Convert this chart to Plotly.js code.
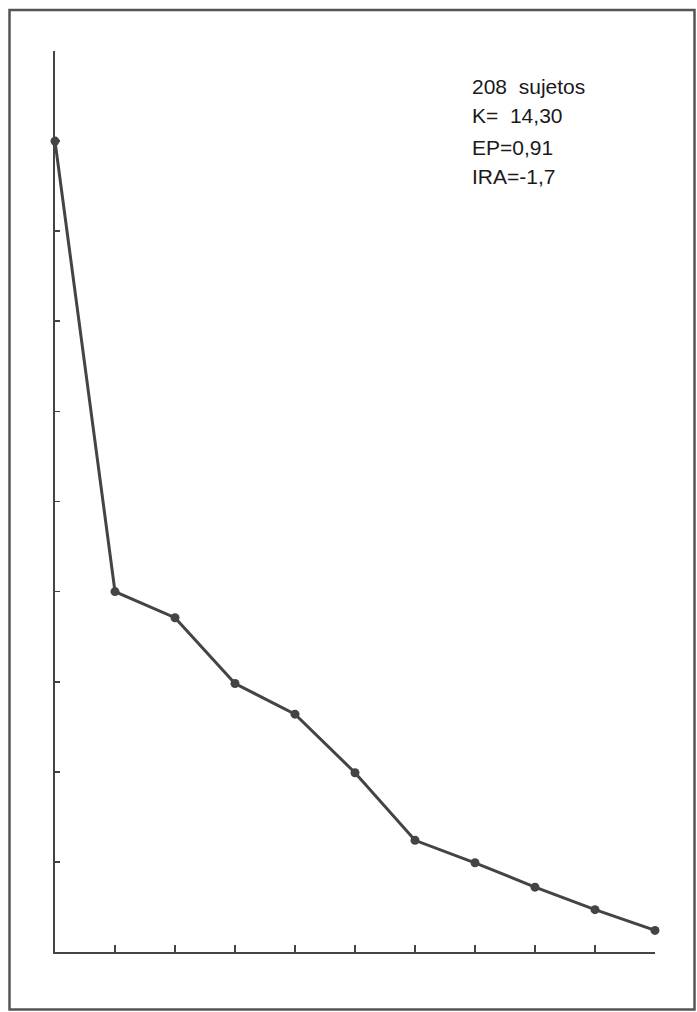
<!DOCTYPE html>
<html>
<head>
<meta charset="utf-8">
<script src="https://cdn.plot.ly/plotly-3.0.1.min.js"></script>
<style>
  html, body { margin: 0; padding: 0; background: #ffffff; }
  #chart { width: 697px; height: 1012px; }
</style>
</head>
<body>
<div id="chart"></div>
<script>
// Data (y in tick units, 10 equal tick intervals, no labels)
const positions = [0, 1, 2, 3, 4, 5, 6, 7, 8, 9, 10];
const values = [9.0, 4.0, 3.71, 2.98, 2.64, 1.99, 1.24, 0.99, 0.72, 0.47, 0.24];
const xTickVals = [0, 1, 2, 3, 4, 5, 6, 7, 8, 9, 10];
const yTickVals = [0, 1, 2, 3, 4, 5, 6, 7, 8, 9, 10];
const infoLines = ['208  sujetos', 'K=  14,30', 'EP=0,91', 'IRA=-1,7'];

const W = 697, H = 1012;
const mL = 55, mR = 42, mT = 51, mB = 60;
const pw = W - mL - mR, ph = H - mT - mB;
const px2paperX = p => (p - mL) / pw;
const px2paperY = p => (H - mB - p) / ph;

const inkColor = '#444444';

const trace = {
  x: positions,
  y: values,
  type: 'scatter',
  mode: 'lines+markers',
  line: { color: inkColor, width: 3 },
  marker: { color: inkColor, size: 9, symbol: 'circle' },
  cliponaxis: false,
  hoverinfo: 'skip'
};

const lineY = [86, 116, 147, 177];
const annotations = infoLines.map((t, i) => ({
  text: t,
  xref: 'paper', yref: 'paper',
  x: px2paperX(470), y: px2paperY(lineY[i]),
  xanchor: 'left', yanchor: 'middle',
  showarrow: false,
  font: { family: 'Liberation Sans, Arial, sans-serif', size: 21, color: '#1a1a1a' }
}));

const layout = {
  width: W, height: H,
  margin: { l: mL, r: mR, t: mT, b: mB, pad: 0 },
  paper_bgcolor: '#ffffff',
  plot_bgcolor: '#ffffff',
  showlegend: false,
  xaxis: {
    range: [0, 10],
    tickvals: xTickVals,
    showticklabels: false,
    ticks: 'inside', ticklen: 7, tickwidth: 1.8, tickcolor: inkColor,
    showline: true, linecolor: inkColor, linewidth: 2.2,
    showgrid: false, zeroline: false, fixedrange: true
  },
  yaxis: {
    range: [0, 10],
    tickvals: yTickVals,
    showticklabels: false,
    ticks: 'inside', ticklen: 5, tickwidth: 1.8, tickcolor: inkColor,
    showline: true, linecolor: inkColor, linewidth: 2.2,
    showgrid: false, zeroline: false, fixedrange: true
  },
  annotations: annotations,
  shapes: [{
    type: 'rect', xref: 'paper', yref: 'paper', layer: 'below',
    x0: px2paperX(9.5), x1: px2paperX(694.5),
    y0: px2paperY(1009.5), y1: px2paperY(10),
    line: { color: '#555555', width: 2.5 },
    fillcolor: 'rgba(0,0,0,0)'
  }]
};

Plotly.newPlot('chart', [trace], layout, { staticPlot: true, displayModeBar: false });
</script>
</body>
</html>
